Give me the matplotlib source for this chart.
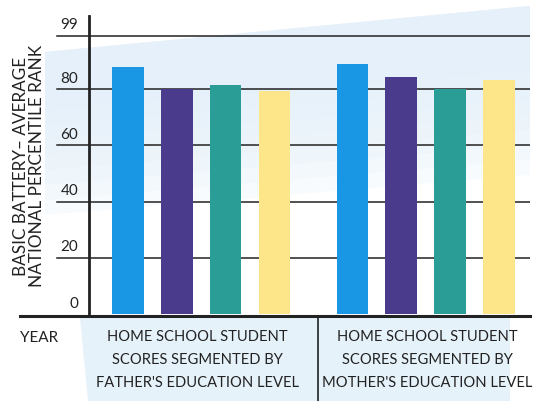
import matplotlib as mpl
import matplotlib.pyplot as plt
from matplotlib.patches import Polygon
from matplotlib.lines import Line2D

mpl.rcParams['font.family'] = ['Lato', 'DejaVu Sans']

# data
groups = ["HOME SCHOOL STUDENT\nSCORES SEGMENTED BY\nFATHER'S EDUCATION LEVEL",
          "HOME SCHOOL STUDENT\nSCORES SEGMENTED BY\nMOTHER'S EDUCATION LEVEL"]
father = [87.8, 80.2, 81.5, 79.3]
mother = [88.9, 84.3, 80.2, 83.3]
yticks = [0, 20, 40, 60, 80, 99]
colors = ['#1996e4', '#4b3b8c', '#2b9d97', '#fde58a']

W, H = 544, 401
fig = plt.figure(figsize=(W / 100, H / 100), dpi=100)

def fx(px):
    return px / W

def fy(py):
    return 1 - py / H

# light blue backdrop (scan look), fading out downwards
bg = '#e3f0fa'
for k in range(8):
    d = 15 * k
    fig.patches.append(Polygon([(fx(45), fy(52)), (fx(530), fy(6)),
                                (fx(530), fy(70 + d)), (fx(45), fy(110 + d))],
                               closed=True, transform=fig.transFigure, facecolor=bg,
                               edgecolor='none', alpha=0.22, zorder=-2))
fig.patches.append(Polygon([(fx(80), fy(318)), (fx(510), fy(318)), (fx(510), fy(401)),
                            (fx(88), fy(401))], closed=True, transform=fig.transFigure,
                           facecolor='#e6f2fa', edgecolor='none', zorder=-2))

ax = fig.add_axes([fx(89), fy(314), fx(530) - fx(89), (314 - 16) / H])
ax.patch.set_alpha(0)

pos1 = [0, 1, 2, 3]
pos2 = [4.6, 5.6, 6.6, 7.6]
ax.bar(pos1, father, width=0.65, color=colors, zorder=3)
ax.bar(pos2, mother, width=0.65, color=colors, zorder=3)

ax.set_xlim(-0.8, 8.24)
ax.set_ylim(0, 106)

for t in yticks[1:]:
    ax.axhline(t, color='#222222', lw=1.1, zorder=1)
    ax.plot([-0.8 - 32 / 49, -0.8], [t, t], color='#222222', lw=1.1,
            clip_on=False, zorder=1)
for t in yticks:
    ax.text(-0.8 - 11 / 49, t + 1.2, str(t), ha='right', va='bottom',
            fontsize=11, color='#222222')

for s in ['top', 'right', 'bottom']:
    ax.spines[s].set_visible(False)
ax.spines['left'].set_linewidth(2)
ax.spines['left'].set_color('#222222')
ax.set_xticks([])
ax.set_yticks([])

# bottom baseline and divider
fig.add_artist(Line2D([fx(20), fx(530)], [fy(316), fy(316)], color='#222222', lw=2.2))
fig.add_artist(Line2D([fx(318), fx(318)], [fy(316), fy(401)], color='#222222', lw=1.2))

fig.text(fx(20), fy(338), 'YEAR', ha='left', va='center', fontsize=11, color='#222222')
fig.text(fx(197), fy(360), groups[0], ha='center', va='center', fontsize=10.6,
         color='#222222', linespacing=1.8)
fig.text(fx(427), fy(360), groups[1], ha='center', va='center', fontsize=10.6,
         color='#222222', linespacing=1.8)

fig.text(fx(29), fy(166), 'BASIC BATTERY\u2013 AVERAGE\nNATIONAL PERCENTILE RANK',
         rotation=90, ha='center', va='center', fontsize=12.3, color='#222222',
         linespacing=1.0)

fig.savefig('out.png', dpi=100)
